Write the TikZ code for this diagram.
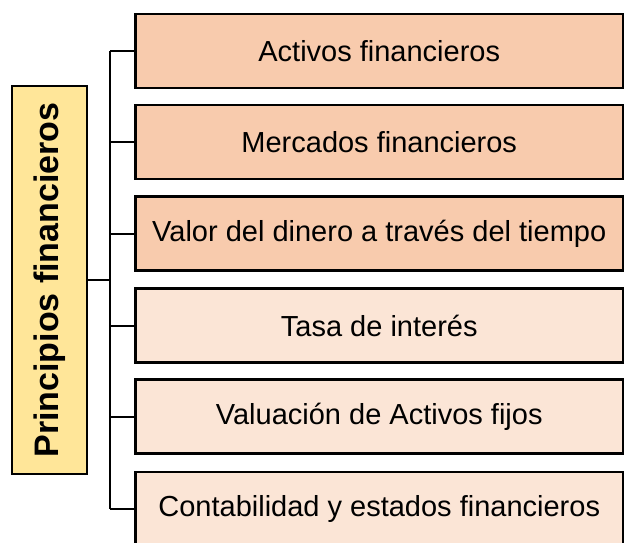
\documentclass[tikz,border=0pt]{standalone}
\usepackage{fontspec}
\setmainfont{Liberation Sans}
\definecolor{darkbox}{HTML}{F8CBAD}
\definecolor{lightbox}{HTML}{FBE5D6}
\definecolor{mainbox}{HTML}{FFE699}
\begin{document}
\begin{tikzpicture}[x=1pt,y=-1pt,
  itembox/.style={draw=black, line width=2.5pt, minimum width=488pt, minimum height=74pt,
     inner sep=0pt, anchor=west, font=\fontsize{29}{34}\selectfont},
  darkitem/.style={itembox, fill=darkbox},
  lightitem/.style={itembox, fill=lightbox},
  rootbox/.style={draw=black, line width=2pt, fill=mainbox, minimum width=388pt, minimum height=75pt,
     inner sep=0pt, rotate=90, font=\fontsize{34}{40}\selectfont\bfseries},
  trunk/.style={line width=2.5pt},
  branch/.style={line width=2pt}]
\useasboundingbox (0,0) rectangle (624,542);
\clip (0,0) rectangle (624,542);
\node[rootbox] (root) at (49.5,280) {Principios financieros};
\node[darkitem]  (b1) at (134,51)    {Activos financieros};
\node[darkitem]  (b2) at (134,142)   {Mercados financieros};
\node[darkitem]  (b3) at (134,233.5) {Valor del dinero a través del tiempo};
\node[lightitem] (b4) at (134,325.5) {Tasa de interés};
\node[lightitem] (b5) at (134,416.5) {Valuación de Activos fijos};
\node[lightitem] (b6) at (134,509)   {Contabilidad y estados financieros};
\coordinate (top) at (110,51);
\coordinate (bot) at (110,509);
\draw[trunk] (top) -- (bot);
\draw[branch] (root.south) -- (root.south -| top);
\foreach \b in {b1,b2,b3,b4,b5,b6}
  \draw[branch] (\b.west -| top) -- (\b.west);
\end{tikzpicture}
\end{document}
